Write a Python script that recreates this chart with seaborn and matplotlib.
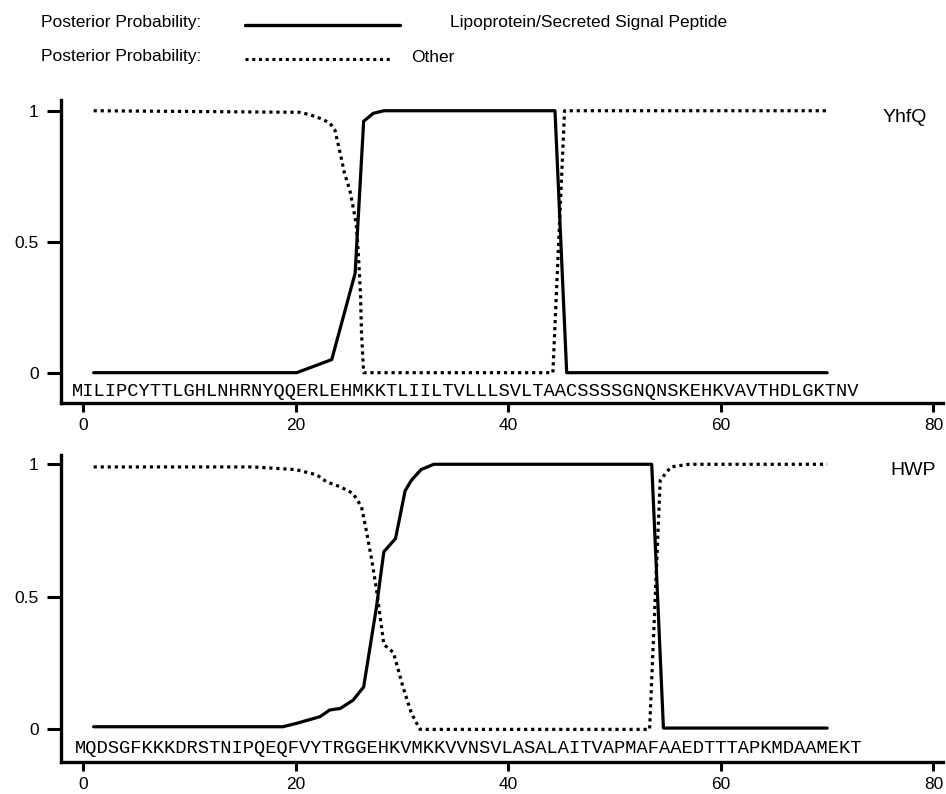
import pandas as pd
import matplotlib.pyplot as plt
import seaborn as sns
from matplotlib.lines import Line2D

# YhfQ panel
yhfq_seq = "MILIPCYTTLGHLNHRNYQQERLEHMKKTLIILTVLLLSVLTAACSSSSGNQNSKEHKVAVTHDLGKTNV"
yhfq_lipo_pos = [1, 20.1, 23.4, 25.6, 26.4, 27.3, 28.3, 44.4, 45.5, 70]
yhfq_lipo_prob = [0, 0, 0.05, 0.38, 0.96, 0.99, 1.0, 1.0, 0, 0]
yhfq_other_pos = [1, 14, 20.4, 21.4, 22.3, 23.2, 23.7, 24.2, 24.6, 25.1, 25.4, 25.7,
                  25.9, 26.1, 26.2, 26.4, 44.2, 45.3, 70]
yhfq_other_prob = [1.0, 0.996, 0.994, 0.984, 0.971, 0.954, 0.926, 0.837, 0.761, 0.697,
                   0.634, 0.57, 0.456, 0.303, 0.15, 0, 0, 1.0, 1.0]

# HWP panel
hwp_seq = "MQDSGFKKKDRSTNIPQEQFVYTRGGEHKVMKKVVNSVLASALAITVAPMAFAAEDTTTAPKMDAAMEKT"
hwp_lipo_pos = [1, 18.8, 20.1, 22.3, 23.2, 24.2, 25.4, 26.4, 27.6, 28.3, 29.4, 30.3,
                30.9, 31.8, 33, 53.5, 54.6, 70]
hwp_lipo_prob = [0.01, 0.01, 0.023, 0.048, 0.073, 0.079, 0.11, 0.16, 0.46, 0.67, 0.72,
                 0.90, 0.94, 0.98, 1.0, 1.0, 0.005, 0.005]
hwp_other_pos = [1, 16, 20, 22, 22.9, 24.2, 25.4, 26.2, 26.7, 27.2, 27.6, 27.9, 28.3,
                 29.2, 30.1, 30.9, 31.7, 53.3, 54.3, 55.3, 57, 70]
hwp_other_prob = [0.99, 0.99, 0.98, 0.96, 0.934, 0.915, 0.89, 0.84, 0.74, 0.63, 0.53,
                  0.44, 0.32, 0.29, 0.16, 0.06, 0.0, 0.0, 0.94, 0.99, 1.0, 1.0]

panels = [
    ("YhfQ", yhfq_seq, yhfq_lipo_pos, yhfq_lipo_prob, yhfq_other_pos, yhfq_other_prob),
    ("HWP", hwp_seq, hwp_lipo_pos, hwp_lipo_prob, hwp_other_pos, hwp_other_prob),
]

x_ticks = [0, 20, 40, 60, 80]
y_ticks = [0, 0.5, 1]
y_tick_labels = ["0", "0.5", "1"]

sns.set_style("white", {"text.color": "black", "xtick.color": "black",
                        "ytick.color": "black", "axes.labelcolor": "black"})
plt.rcParams['font.family'] = ['Liberation Sans', 'DejaVu Sans']

fig = plt.figure(figsize=(9.46, 7.94), dpi=100)
W, H = 946, 794

# axes boxes in pixels (top, bottom), y limits, sequence start x, label right x
boxes = [(100, 403, (-0.1157, 1.041), -1.06, 79.4),
         (455, 762, (-0.123, 1.035), -0.75, 80.2)]

for (name, seq, lp, lv, op, ov), (top, bot, ylim, seq_x, name_x) in zip(panels, boxes):
    ax = fig.add_axes([61 / W, (H - bot) / H, 882 / W, (bot - top) / H])
    df = pd.concat([
        pd.DataFrame({"pos": lp, "prob": lv, "series": "Lipoprotein"}),
        pd.DataFrame({"pos": op, "prob": ov, "series": "Other"}),
    ])
    sns.lineplot(data=df, x="pos", y="prob", style="series",
                 dashes={"Lipoprotein": "", "Other": (1, 1.2)},
                 color="black", linewidth=2.3, sort=False, estimator=None,
                 legend=False, ax=ax)
    ax.set_xlim(-2.07, 80.9)
    ax.set_ylim(*ylim)
    ax.set_xticks(x_ticks)
    ax.set_yticks(y_ticks)
    ax.set_yticklabels(y_tick_labels)
    ax.set_xlabel("")
    ax.set_ylabel("")
    for s in ["top", "right"]:
        ax.spines[s].set_visible(False)
    for s in ["left", "bottom"]:
        ax.spines[s].set_linewidth(2.4)
        ax.spines[s].set_color("black")
    ax.tick_params(axis="x", direction="out", length=6.5, width=2.2, pad=4,
                   labelsize=12.5, bottom=True, color="black", labelcolor="black")
    ax.tick_params(axis="y", direction="out", length=10, width=2.2, pad=6,
                   labelsize=12.5, left=True, color="black", labelcolor="black")
    ax.text(seq_x, -0.073, seq, family="Liberation Mono", fontsize=13.5,
            ha="left", va="center", color="black")
    ax.text(name_x, 0.975, name, fontsize=14, ha="right", va="center", color="black")

# legend-like header
fig.text(41 / W, 1 - 23 / H, "Posterior Probability:", fontsize=12.5, va="center")
fig.add_artist(Line2D([245 / W, 400 / W], [1 - 25 / H, 1 - 25 / H],
                      transform=fig.transFigure, color="black", lw=2.4))
fig.text(450 / W, 1 - 23 / H, "Lipoprotein/Secreted Signal Peptide", fontsize=12.5,
         va="center")
fig.text(41 / W, 1 - 57 / H, "Posterior Probability:", fontsize=12.5, va="center")
fig.add_artist(Line2D([245 / W, 392 / W], [1 - 59 / H, 1 - 59 / H],
                      transform=fig.transFigure, color="black", lw=2.2,
                      dashes=(1, 1.2)))
fig.text(411 / W, 1 - 57 / H, "Other", fontsize=12.5, va="center")

fig.savefig("out.png", dpi=100)
